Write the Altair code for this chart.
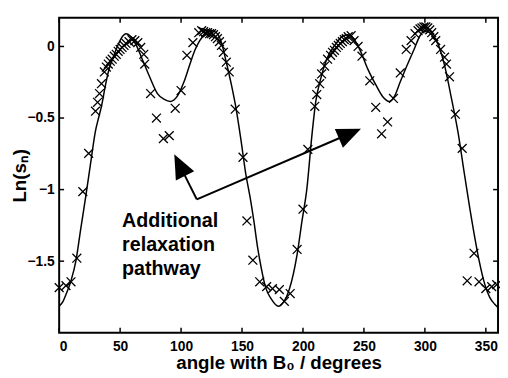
import altair as alt
import pandas as pd

# measured points (angle in degrees, Ln(s_n))
pt_angle = [0.0, 5.6, 9.7, 14.5, 19.4, 24.2, 29.8, 31.5, 33.1, 34.7, 37.1, 38.7,
            40.3, 41.9, 43.5, 45.2, 46.8, 48.4, 50.0, 51.6, 53.2, 54.8, 57.3, 59.7,
            62.1, 64.5, 66.9, 69.4, 70.2, 75.0, 79.8, 85.5, 90.3, 95.2, 100.0, 104.8,
            109.7, 114.5, 116.9, 118.5, 120.2, 121.8, 123.4, 125.0, 126.6, 128.2,
            129.8, 131.5, 133.1, 134.7, 137.1, 139.5, 144.4, 150.8, 154.0, 158.9,
            164.5, 170.2, 175.0, 180.6, 184.7, 189.5, 195.2, 200.0, 204.0, 209.7,
            211.3, 213.7, 215.3, 217.7, 220.2, 222.6, 224.2, 225.8, 227.4, 229.0,
            230.6, 232.3, 233.9, 235.5, 237.1, 239.5, 241.9, 245.2, 248.4, 254.8,
            259.7, 264.5, 269.4, 274.2, 279.8, 284.7, 288.7, 291.9, 294.4, 296.0,
            297.6, 299.2, 300.8, 302.4, 304.0, 305.6, 307.3, 308.9, 312.9, 316.1,
            317.7, 320.2, 325.0, 330.6, 334.7, 340.3, 344.4, 350.0, 354.8, 358.9]
pt_ln = [-1.685, -1.671, -1.644, -1.479, -1.014, -0.747, -0.452, -0.390, -0.329, -0.260, -0.178, -0.144,
         -0.123, -0.103, -0.089, -0.068, -0.055, -0.034, -0.021, -0.007, 0.007, 0.021, 0.034, 0.048,
         0.041, 0.027, -0.007, -0.055, -0.123, -0.329, -0.500, -0.644, -0.623, -0.432, -0.308, -0.062,
         0.027, 0.096, 0.110, 0.103, 0.096, 0.096, 0.089, 0.089, 0.082, 0.068,
         0.055, 0.034, 0.007, -0.041, -0.110, -0.178, -0.438, -0.774, -1.219, -1.493,
         -1.644, -1.678, -1.692, -1.699, -1.781, -1.726, -1.418, -1.137, -0.719, -0.418,
         -0.336, -0.260, -0.192, -0.137, -0.089, -0.062, -0.041, -0.027, -0.007, 0.007,
         0.021, 0.034, 0.048, 0.055, 0.068, 0.075, 0.041, 0.000, -0.068, -0.240,
         -0.425, -0.610, -0.527, -0.363, -0.185, -0.021, 0.041, 0.089, 0.110, 0.123,
         0.130, 0.137, 0.137, 0.130, 0.116, 0.096, 0.068, 0.041, -0.021, -0.075,
         -0.123, -0.212, -0.473, -0.712, -1.637, -1.445, -1.644, -1.692, -1.678, -1.664]

# fitted curve
fit_angle = [0.0, 3.2, 5.6, 9.7, 13.7, 17.7, 21.8, 25.8, 29.8, 32.3, 34.7, 37.9, 40.3,
             44.4, 48.4, 52.4, 54.8, 58.1, 62.9, 68.5, 74.2, 80.6, 86.3, 91.1, 96.8,
             102.4, 107.3, 111.3, 115.3, 121.0, 125.0, 129.0, 133.1, 137.1, 141.1,
             145.2, 149.2, 153.2, 156.5, 159.7, 162.9, 166.1, 169.4, 174.2, 179.8,
             183.9, 188.7, 195.2, 199.2, 203.2, 207.3, 210.5, 214.5, 219.4, 226.6,
             233.1, 237.1, 242.7, 247.6, 253.2, 259.7, 265.3, 271.0, 275.0, 279.8,
             285.5, 291.1, 296.0, 300.0, 305.6, 311.3, 316.1, 321.8, 327.4, 332.3,
             338.7, 344.4, 349.2, 353.2, 357.3, 359.7]
fit_ln = [-1.815, -1.781, -1.733, -1.637, -1.500, -1.274, -1.048, -0.815, -0.589, -0.500, -0.418, -0.274, -0.178,
          -0.075, 0.014, 0.075, 0.089, 0.075, 0.014, -0.096, -0.212, -0.329, -0.370, -0.384, -0.349,
          -0.247, -0.123, -0.027, 0.041, 0.096, 0.110, 0.096, 0.027, -0.110, -0.260,
          -0.438, -0.658, -0.897, -1.048, -1.219, -1.411, -1.562, -1.685, -1.767, -1.815,
          -1.788, -1.699, -1.452, -1.219, -0.993, -0.623, -0.384, -0.226, -0.089, 0.014,
          0.075, 0.082, 0.041, -0.041, -0.158, -0.267, -0.349, -0.384, -0.349, -0.247,
          -0.130, -0.021, 0.075, 0.110, 0.082, 0.007, -0.130, -0.363, -0.610, -0.884,
          -1.226, -1.493, -1.664, -1.753, -1.801, -1.822]

x_ticks = [0, 50, 100, 150, 200, 250, 300, 350]
y_ticks = [0, -0.5, -1, -1.5]

note_lines = ["Additional", "relaxation", "pathway"]
note_ln = [-1.219, -1.387, -1.555]
note_angle = 51.6

FONT = "Liberation Sans"
W, H = 446, 320

xscale = alt.Scale(domain=[0, 360], nice=False, zero=False)
yscale = alt.Scale(domain=[-2.0, 0.2], nice=False, zero=False)
xaxis = alt.Axis(values=x_ticks, title="angle with B₀ / degrees", titleY=36,
                 titleBaseline="alphabetic", titleX=W / 2, titleAlign="center",
                 labelPadding=7)
yaxis = alt.Axis(values=y_ticks, format="~g", title="Ln(sₙ)", titleX=-34, titleY=160,
                 titleBaseline="alphabetic", titleAlign="center", titleAngle=270,
                 labelPadding=5)

X = alt.X("angle:Q", scale=xscale, axis=xaxis)
Y = alt.Y("ln:Q", scale=yscale, axis=yaxis)

pts = pd.DataFrame({"angle": pt_angle, "ln": pt_ln})
fit = pd.DataFrame({"angle": fit_angle, "ln": fit_ln})

curve = alt.Chart(fit).mark_line(color="black", strokeWidth=1.5, interpolate="monotone").encode(x=X, y=Y)
cross = alt.Chart(pts).mark_point(shape="M-1,-1L1,1M-1,1L1,-1", filled=False, color="black",
                                  strokeWidth=1.3, size=81, opacity=1).encode(x=X, y=Y)

vertex = (112.9, -1.068)
arrows = pd.DataFrame({"angle": [vertex[0], vertex[0]], "ln": [vertex[1], vertex[1]],
                       "angle2": [98.7, 238.7], "ln2": [-0.827, -0.608]})
arrow_lines = alt.Chart(arrows).mark_rule(color="black", strokeWidth=2).encode(
    x=X, y=Y, x2="angle2:Q", y2="ln2:Q")

head_path = "M0,0L-0.85,2L0.85,2Z"
head1 = alt.Chart(pd.DataFrame({"angle": [94.4], "ln": [-0.753]})).mark_point(
    shape=head_path, filled=True, color="black", size=600, angle=333.4, opacity=1,
    strokeWidth=0).encode(x=X, y=Y)
head2 = alt.Chart(pd.DataFrame({"angle": [247.6], "ln": [-0.575]})).mark_point(
    shape=head_path, filled=True, color="black", size=600, angle=66.7, opacity=1,
    strokeWidth=0).encode(x=X, y=Y)

notes = pd.DataFrame({"angle": [note_angle] * 3, "ln": note_ln, "txt": note_lines})
note = alt.Chart(notes).mark_text(align="left", baseline="middle", font=FONT, fontSize=20,
                                  fontWeight="bold", color="black").encode(x=X, y=Y, text="txt:N")

xt = pd.DataFrame({"angle": x_ticks})
yt = pd.DataFrame({"ln": y_ticks})
tick_b = alt.Chart(xt).mark_rule(color="black", strokeWidth=1.5).encode(x=X, y=alt.value(H), y2=alt.value(H - 5))
tick_t = alt.Chart(xt).mark_rule(color="black", strokeWidth=1.5).encode(x=X, y=alt.value(0), y2=alt.value(5))
tick_l = alt.Chart(yt).mark_rule(color="black", strokeWidth=1.5).encode(y=Y, x=alt.value(0), x2=alt.value(5))
tick_r = alt.Chart(yt).mark_rule(color="black", strokeWidth=1.5).encode(y=Y, x=alt.value(W), x2=alt.value(W - 5))

chart = alt.layer(curve, cross, arrow_lines, head1, head2, note, tick_b, tick_t, tick_l, tick_r).properties(
    width=W, height=H,
    autosize=alt.AutoSizeParams(type="none"),
    padding={"left": 52, "top": 7, "right": 2, "bottom": 43},
    background="white",
).configure_view(stroke="black", strokeWidth=2).configure_axis(
    grid=False, ticks=False, domain=False,
    labelFont=FONT, labelFontSize=14, labelFontWeight="bold", labelColor="black",
    titleFont=FONT, titleFontSize=19, titleFontWeight="bold", titleColor="black",
)

chart.save("out.html", embed_options={"renderer": "svg", "actions": False})
